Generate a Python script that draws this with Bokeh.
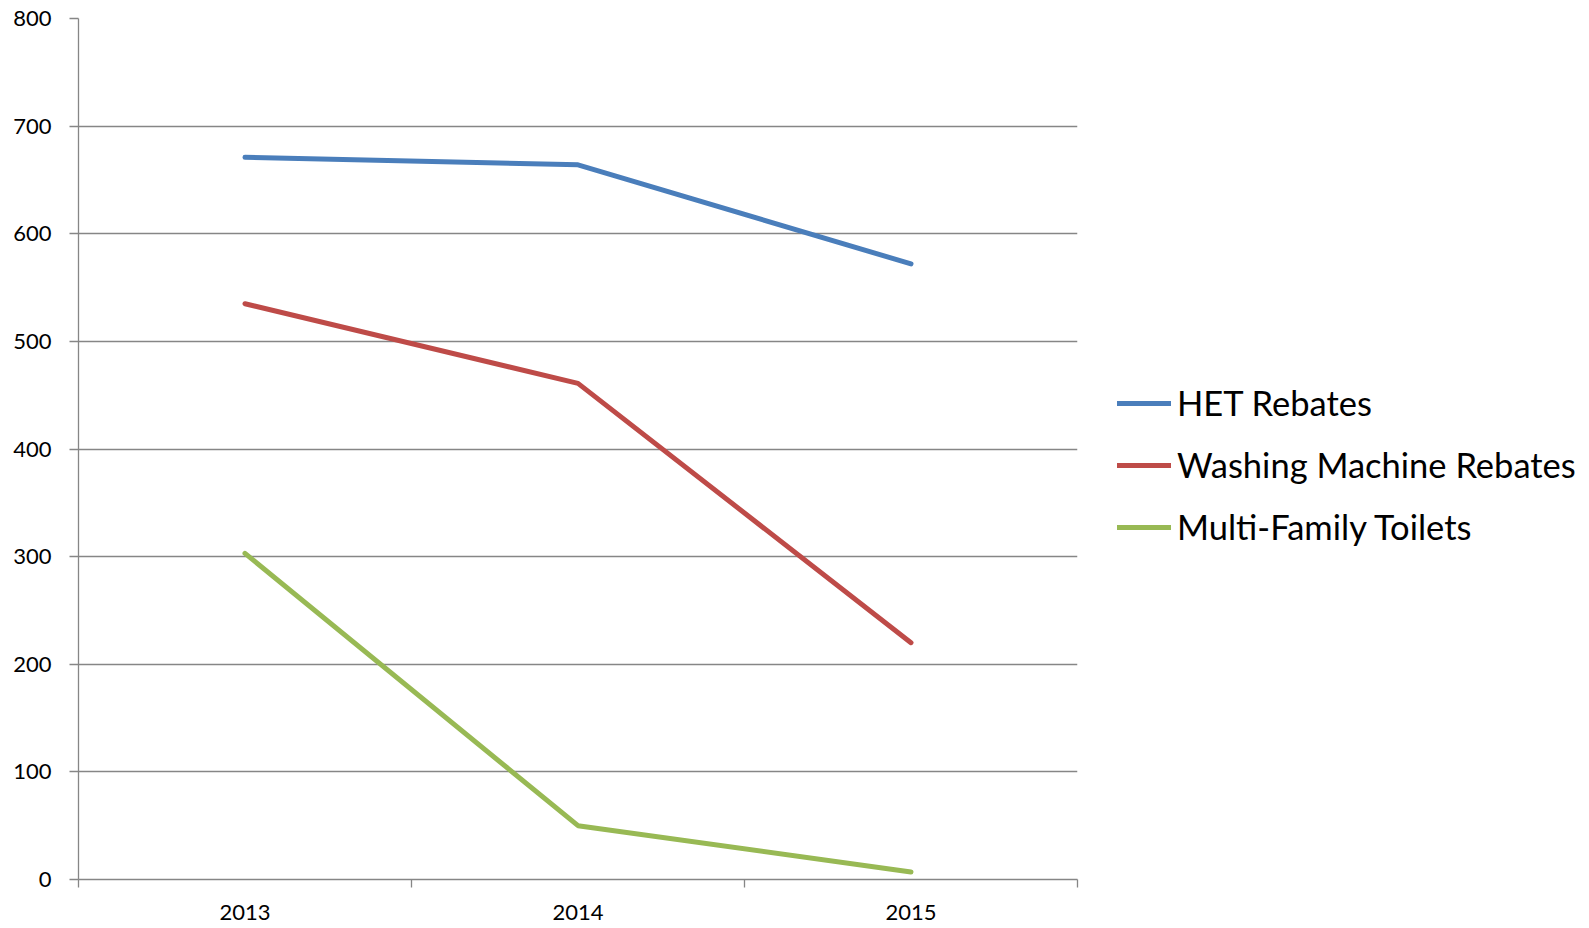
from bokeh.plotting import figure
from bokeh.models import Legend, LegendItem, FixedTicker, Range1d
from bokeh.embed import file_html
from bokeh.resources import INLINE

years = ["2013", "2014", "2015"]
het_rebates = [671, 664, 572]
washing_rebates = [535, 461, 220]
multi_family = [303, 50, 7]
y_ticks = [0, 100, 200, 300, 400, 500, 600, 700, 800]

series = [
    ("HET Rebates", het_rebates, "#4A7EBB"),
    ("Washing Machine Rebates", washing_rebates, "#BE4B48"),
    ("Multi-Family Toilets", multi_family, "#98B954"),
]

xs = [i + 0.5 for i in range(len(years))]

p = figure(
    frame_width=999, frame_height=861,
    x_range=Range1d(0, len(years)), y_range=Range1d(0, 800),
    output_backend="svg", toolbar_location=None,
    min_border_left=78, min_border_top=18, min_border_bottom=48,
    min_border_right=10,
)
p.outline_line_color = None
p.background_fill_color = "white"

FONT = "Lato"
GRID = "#868686"

# x axis
p.xaxis.ticker = FixedTicker(ticks=xs, minor_ticks=list(range(len(years) + 1)))
p.xaxis.major_label_overrides = {x: y for x, y in zip(xs, years)}
p.xaxis.major_tick_out = 0
p.xaxis.major_tick_in = 0
p.xaxis.minor_tick_out = 8
p.xaxis.minor_tick_in = 0
p.xaxis.minor_tick_line_color = GRID
p.xaxis.minor_tick_line_width = 1.3
p.xaxis.axis_line_color = GRID
p.xaxis.axis_line_width = 1.3
p.xaxis.major_label_text_font = FONT
p.xaxis.major_label_text_font_size = "22px"
p.xaxis.major_label_text_color = "black"
p.xaxis.major_label_standoff = 17
p.xgrid.grid_line_color = None

# y axis
p.yaxis.ticker = FixedTicker(ticks=y_ticks, minor_ticks=[])
p.yaxis.major_tick_out = 9
p.yaxis.major_tick_in = 0
p.yaxis.major_tick_line_color = GRID
p.yaxis.major_tick_line_width = 1.3
p.yaxis.axis_line_color = GRID
p.yaxis.axis_line_width = 1.3
p.yaxis.major_label_text_font = FONT
p.yaxis.major_label_text_font_size = "22px"
p.yaxis.major_label_text_color = "black"
p.yaxis.major_label_standoff = 18
p.ygrid.grid_line_color = GRID
p.ygrid.grid_line_width = 1.3

items = []
for name, vals, color in series:
    r = p.line(xs, vals, line_color=color, line_width=5, line_cap="round", line_join="round")
    items.append(LegendItem(label=name, renderers=[r]))

legend = Legend(
    items=items, location=(40, 332), orientation="vertical",
    border_line_color=None, background_fill_alpha=0,
    label_text_font=FONT, label_text_font_size="34.5px", label_text_color="black",
    glyph_width=54, glyph_height=40, label_height=40, spacing=21,
    label_standoff=6, padding=0, margin=0,
)
p.add_layout(legend, "right")

open("out.html", "w").write(file_html(p, INLINE))
